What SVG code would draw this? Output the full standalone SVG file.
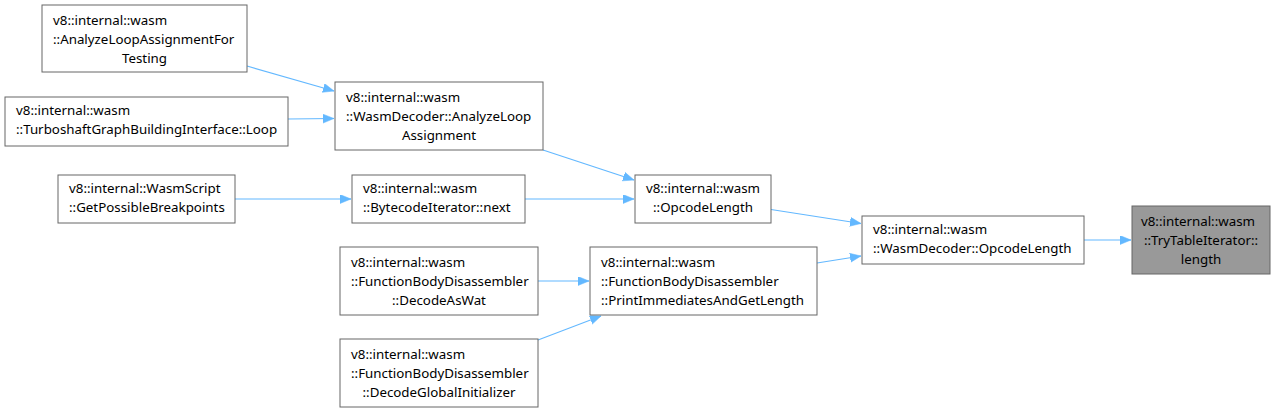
<svg xmlns="http://www.w3.org/2000/svg" width="1276" height="413" viewBox="0 0 1276 413">
<style>
.n rect{fill:#ffffff;stroke:#666666;stroke-width:1}
.n text{font-family:"Noto Sans","DejaVu Sans",sans-serif;font-size:13.33px;fill:#000000}
.m{text-anchor:middle}
#k rect{fill:#999999}
.e line{stroke:#63b8ff;stroke-width:1.2;fill:none}
</style>
<defs>
<marker id="ah" markerUnits="userSpaceOnUse" markerWidth="12" markerHeight="10" refX="11" refY="4.5" orient="auto">
<path d="M0,0 L11,4.5 L0,9 z" fill="#63b8ff" stroke="#63b8ff" stroke-width="0.5"/>
</marker>
</defs>
<rect width="1276" height="413" fill="#ffffff"/>
<g class="e">
<line x1="247" y1="66" x2="334" y2="91" marker-end="url(#ah)"/>
<line x1="288" y1="119" x2="334" y2="118.5" marker-end="url(#ah)"/>
<line x1="543" y1="150" x2="634" y2="180" marker-end="url(#ah)"/>
<line x1="235" y1="199" x2="351" y2="199" marker-end="url(#ah)"/>
<line x1="525" y1="199" x2="634" y2="199" marker-end="url(#ah)"/>
<line x1="771" y1="209.5" x2="861" y2="223.5" marker-end="url(#ah)"/>
<line x1="817" y1="263" x2="861" y2="256" marker-end="url(#ah)"/>
<line x1="538" y1="281" x2="589" y2="281" marker-end="url(#ah)"/>
<line x1="538" y1="340" x2="601" y2="316" marker-end="url(#ah)"/>
<line x1="1084" y1="240" x2="1131" y2="240" marker-end="url(#ah)"/>
</g>
<g class="n" id="a">
<rect x="42" y="5" width="205" height="67"/>
<text x="53" y="24.5">v8::internal::wasm</text>
<text x="53" y="43.5">::AnalyzeLoopAssignmentFor</text>
<text x="144.5" y="62.5" class="m">Testing</text>
</g>
<g class="n" id="b">
<rect x="5" y="97" width="283" height="49"/>
<text x="16" y="115">v8::internal::wasm</text>
<text x="16" y="134">::TurboshaftGraphBuildingInterface::Loop</text>
</g>
<g class="n" id="c">
<rect x="335" y="82" width="208" height="68"/>
<text x="346" y="101.5">v8::internal::wasm</text>
<text x="346" y="120.5">::WasmDecoder::AnalyzeLoop</text>
<text x="439" y="139.5" class="m">Assignment</text>
</g>
<g class="n" id="d">
<rect x="58" y="175" width="177" height="48"/>
<text x="69" y="193">v8::internal::WasmScript</text>
<text x="69" y="212">::GetPossibleBreakpoints</text>
</g>
<g class="n" id="e">
<rect x="352" y="175" width="173" height="48"/>
<text x="363" y="193">v8::internal::wasm</text>
<text x="363" y="212">::BytecodeIterator::next</text>
</g>
<g class="n" id="f">
<rect x="635" y="175" width="136" height="48"/>
<text x="703" y="193" class="m">v8::internal::wasm</text>
<text x="703" y="212" class="m">::OpcodeLength</text>
</g>
<g class="n" id="g">
<rect x="340" y="247" width="198" height="68"/>
<text x="351" y="266.5">v8::internal::wasm</text>
<text x="351" y="285.5">::FunctionBodyDisassembler</text>
<text x="439" y="304.5" class="m">::DecodeAsWat</text>
</g>
<g class="n" id="h">
<rect x="340" y="339" width="198" height="68"/>
<text x="351" y="358.5">v8::internal::wasm</text>
<text x="351" y="377.5">::FunctionBodyDisassembler</text>
<text x="439" y="396.5" class="m">::DecodeGlobalInitializer</text>
</g>
<g class="n" id="i">
<rect x="590" y="247" width="227" height="68"/>
<text x="601" y="266.5">v8::internal::wasm</text>
<text x="601" y="285.5">::FunctionBodyDisassembler</text>
<text x="601" y="304.5">::PrintImmediatesAndGetLength</text>
</g>
<g class="n" id="j">
<rect x="862" y="216" width="222" height="48"/>
<text x="873" y="234">v8::internal::wasm</text>
<text x="873" y="253">::WasmDecoder::OpcodeLength</text>
</g>
<g class="n" id="k">
<rect x="1132" y="206" width="138" height="68"/>
<text x="1198" y="225.5" class="m">v8::internal::wasm</text>
<text x="1201" y="244.5" class="m">::TryTableIterator::</text>
<text x="1201" y="263.5" class="m">length</text>
</g>
</svg>
